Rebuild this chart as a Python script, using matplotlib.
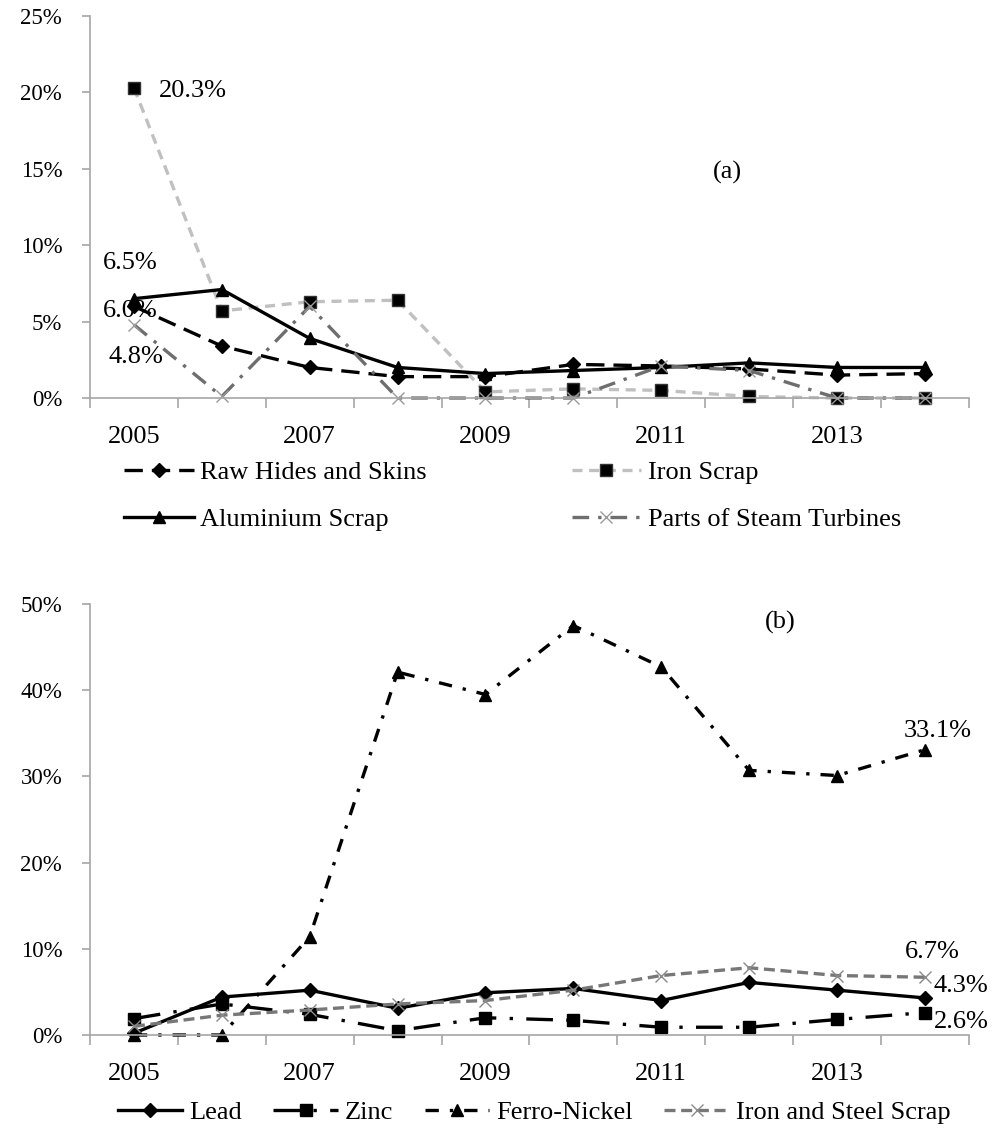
import numpy as np
import matplotlib.pyplot as plt
from matplotlib.ticker import FuncFormatter, FixedLocator

plt.rcParams['font.family'] = ['Liberation Serif', 'DejaVu Serif']
plt.rcParams['font.size'] = 19

years = [2005, 2006, 2007, 2008, 2009, 2010, 2011, 2012, 2013, 2014]

# panel (a)
raw_hides = [6.0, 3.4, 2.0, 1.4, 1.4, 2.2, 2.1, 1.9, 1.5, 1.6]
iron_scrap = [20.3, 5.7, 6.3, 6.4, 0.4, 0.6, 0.5, 0.1, 0.0, 0.0]
aluminium = [6.5, 7.1, 3.9, 2.0, 1.6, 1.8, 2.0, 2.3, 2.0, 2.0]
steam_turbines = [4.8, 0.1, 6.0, 0.0, 0.0, 0.0, 2.1, 1.8, 0.0, 0.0]

# panel (b)
lead = [0.2, 4.4, 5.2, 3.1, 4.9, 5.4, 4.0, 6.1, 5.2, 4.3]
zinc = [1.9, 3.6, 2.4, 0.5, 2.0, 1.7, 0.9, 0.9, 1.8, 2.6]
ferro_nickel = [0.0, 0.0, 11.4, 42.1, 39.5, 47.5, 42.7, 30.7, 30.1, 33.1]
steel_scrap = [1.0, 2.3, 2.9, 3.6, 4.0, 5.2, 6.9, 7.8, 6.9, 6.7]

AXIS_GREY = '#a6a6a6'
LW = 2.4
x = np.arange(len(years))
pct = FuncFormatter(lambda v, p: f'{v:.0f}%')


def style_axes(ax, ymax, ystep):
    ax.set_xlim(-0.5, len(years) - 0.5)
    ax.set_ylim(0, ymax)
    ax.set_yticks(np.arange(0, ymax + 0.1, ystep))
    ax.yaxis.set_major_formatter(pct)
    for side in ('top', 'right'):
        ax.spines[side].set_visible(False)
    for side in ('left', 'bottom'):
        ax.spines[side].set_color(AXIS_GREY)
        ax.spines[side].set_linewidth(1.2)
    # year labels on every other category, tick marks at category edges
    ax.set_xticks(x[::2])
    ax.set_xticklabels([str(y) for y in years[::2]])
    ax.xaxis.set_minor_locator(FixedLocator(np.arange(-0.5, len(years), 1.0)))
    ax.tick_params(axis='x', which='major', length=0, pad=20)
    ax.tick_params(axis='x', which='minor', length=7, color=AXIS_GREY, width=1.2)
    ax.tick_params(axis='y', length=6, color=AXIS_GREY, width=1.2, pad=14,
                   labelsize=16.5)


def label(ax, text, xy, dx, dy, ha='center', **kw):
    ax.annotate(text, xy, xytext=(dx, dy), textcoords='offset pixels',
                va='center', ha=ha, **kw)


fig = plt.figure(figsize=(9.92, 11.33), dpi=100)

# ---- (a) ----
ax1 = fig.add_axes([0.0907, 0.6487, 0.886, 0.3372])
h_raw, = ax1.plot(x, raw_hides, color='black', lw=LW, dashes=(5.5, 2.7),
                  marker='D', ms=7, label='Raw Hides and Skins', clip_on=False)
h_iron, = ax1.plot(x, iron_scrap, color='#c0c0c0', lw=LW, dashes=(3, 2),
                   marker='s', ms=8.5, mfc='black', mec='#333333',
                   label='Iron Scrap', clip_on=False)
h_alu, = ax1.plot(x, aluminium, color='black', lw=LW, marker='^', ms=9,
                  label='Aluminium Scrap', clip_on=False)
h_steam, = ax1.plot(x, steam_turbines, color='#6e6e6e', lw=LW,
                    dashes=(5, 2.7, 1, 2.7), marker='x', ms=9, mec='#9a9a9a',
                    mew=1.0, label='Parts of Steam Turbines', clip_on=False)
style_axes(ax1, 25, 5)

label(ax1, f'{iron_scrap[0]:.1f}%', (x[0], iron_scrap[0]), 25, -3, ha='left')
label(ax1, f'{aluminium[0]:.1f}%', (x[0], aluminium[0]), -4, 36)
label(ax1, f'{raw_hides[0]:.1f}%', (x[0], raw_hides[0]), -4, -5, zorder=1)
label(ax1, f'{steam_turbines[0]:.1f}%', (x[0], steam_turbines[0]), 2, -32)
fig.text(727 / 992, 1 - 172 / 1133, '(a)', ha='center', va='center')

# legend rows: Raw Hides | Iron Scrap, Aluminium | Steam Turbines
fig.legend([h_raw, h_alu, h_iron, h_steam],
           [h.get_label() for h in (h_raw, h_alu, h_iron, h_steam)],
           ncol=2, frameon=False, loc='upper left',
           bbox_to_anchor=(0.1008, 1 - 437 / 1133),
           handlelength=2.65, handletextpad=0.23, columnspacing=5.5,
           labelspacing=0.9)

# ---- (b) ----
ax2 = fig.add_axes([0.0907, 0.0865, 0.886, 0.3804])
ax2.plot(x, lead, color='black', lw=LW, marker='D', ms=7, label='Lead',
         clip_on=False)
ax2.plot(x, zinc, color='black', lw=LW, dashes=(8, 4, 1, 4),
         marker='s', ms=8.5, label='Zinc', clip_on=False)
ax2.plot(x, ferro_nickel, color='black', lw=LW, dashes=(4, 3.3, 1, 3.3),
         marker='^', ms=9, label='Ferro-Nickel', clip_on=False)
ax2.plot(x, steel_scrap, color='#777777', lw=LW, dashes=(3.3, 1.7),
         marker='x', ms=9, mec='#8a8a8a', mew=1.0, label='Iron and Steel Scrap',
         clip_on=False)
style_axes(ax2, 50, 10)

label(ax2, f'{ferro_nickel[-1]:.1f}%', (x[-1], ferro_nickel[-1]), 13, 19)
label(ax2, f'{steel_scrap[-1]:.1f}%', (x[-1], steel_scrap[-1]), 7, 25)
label(ax2, f'{lead[-1]:.1f}%', (x[-1], lead[-1]), 9, 12, ha='left')
label(ax2, f'{zinc[-1]:.1f}%', (x[-1], zinc[-1]), 9, -9, ha='left')
fig.text(780 / 992, 1 - 622 / 1133, '(b)', ha='center', va='center')

fig.legend(*ax2.get_legend_handles_labels(), ncol=4, frameon=False,
           loc='center left', bbox_to_anchor=(0.0948, 1 - 1112 / 1133),
           handlelength=2.45, handletextpad=0.25, columnspacing=1.2)

fig.savefig('out.png', dpi=100)
